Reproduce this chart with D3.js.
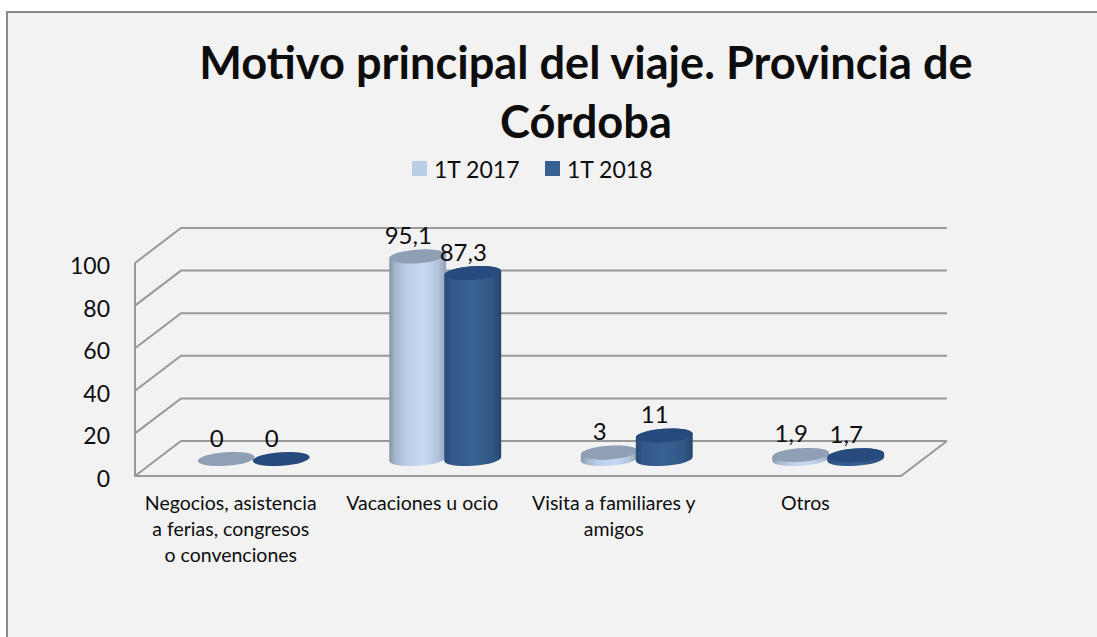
<!DOCTYPE html>
<html>
<head>
<meta charset="utf-8">
<script src="https://cdn.jsdelivr.net/npm/d3@7"></script>
<style>
  html, body { margin: 0; padding: 0; background: #fff; }
  svg { display: block; }
  text { font-family: Lato, "Open Sans", sans-serif; fill: #0d0d0d; }
</style>
</head>
<body>
<div id="chart"></div>
<script>
var titleLines = ["Motivo principal del viaje. Provincia de", "Córdoba"];
var categories = ["Negocios, asistencia a ferias, congresos o convenciones", "Vacaciones u ocio", "Visita a familiares y amigos", "Otros"];
var categoryLines = [
  ["Negocios, asistencia", "a ferias, congresos", "o convenciones"],
  ["Vacaciones u ocio"],
  ["Visita a familiares y", "amigos"],
  ["Otros"]
];
var seriesNames = ["1T 2017", "1T 2018"];
var values2017 = [0, 95.1, 3, 1.9];
var values2018 = [0, 87.3, 11, 1.7];
var yTicks = [0, 20, 40, 60, 80, 100];

var w = 1097, h = 637;
var depthX = 46, depthY = -35;   // 3d wall offset
var barW = 57, ry = 6.8, tilt = -4;

var svg = d3.select("#chart").append("svg").attr("width", w).attr("height", h);
var defs = svg.append("defs");

function gradient(id, stops) {
  var g = defs.append("linearGradient").attr("id", id);
  stops.forEach(function(s) {
    g.append("stop").attr("offset", s[0]).attr("stop-color", s[1]);
  });
}
gradient("body0", [[0, "#87949f"], [0.1, "#a5b5cb"], [0.3, "#bccfe8"], [0.6, "#c5d9f1"], [0.85, "#b3c5dd"], [1, "#93a2b6"]]);
gradient("body1", [[0, "#284a75"], [0.12, "#32588a"], [0.5, "#386193"], [0.85, "#305685"], [1, "#254570"]]);
var topColors = ["#8f9fb4", "#254a7b"];
var swatchColors = ["#b9cde5", "#376092"];

// background with the grey edge on the left and on top only
svg.append("rect").attr("x", 7).attr("y", 12).attr("width", w - 7).attr("height", h - 12).attr("fill", "#f2f2f2");
svg.append("path").attr("d", "M7,637 V12 H1097").attr("fill", "none").attr("stroke", "#898989").attr("stroke-width", 2);

var x0 = d3.scaleBand().domain(categories).range([135, 901]);
var x1 = d3.scaleBand().domain(seriesNames).range([0, 110]);
var y = d3.scaleLinear().domain([0, 100]).range([476, 263]);

// walls
var walls = svg.append("g").attr("fill", "none").attr("stroke", "#999").attr("stroke-width", 2);
yTicks.forEach(function(t) {
  walls.append("path").attr("d", "M135," + y(t) + " l" + depthX + "," + depthY + " H947");
});
walls.append("path").attr("d", "M135," + y(100) + " V" + y(0) + " H901 l" + depthX + "," + depthY);

// axes
var yAxis = svg.append("g").attr("transform", "translate(135,0)")
  .call(d3.axisLeft(y).tickValues(yTicks).tickSize(0).tickPadding(25));
yAxis.select(".domain").remove();
yAxis.selectAll("text").attr("font-size", 23).style("font-family", "Lato").attr("dy", "0.46em");

var xAxis = svg.append("g").attr("transform", "translate(0,476)")
  .call(d3.axisBottom(x0).tickSize(0));
xAxis.select(".domain").remove();
xAxis.selectAll("text").each(function(d, i) {
  var t = d3.select(this).text(null).attr("y", 0).attr("dy", null)
    .attr("font-size", 19.5).style("font-family", "Lato");
  categoryLines[i].forEach(function(line, j) {
    t.append("tspan").attr("x", 0).attr("y", 34 + j * 26).text(line);
  });
});

// cylinders
var rad = tilt * Math.PI / 180;
var ex = barW / 2 * Math.cos(rad), ey = barW / 2 * Math.sin(rad);
var baseY = y(0) - 17;

function cylinder(g, cx, v, si) {
  var top = baseY - (y(0) - y(v));
  if (v > 0) {
    var arc = "A" + barW / 2 + "," + ry + " " + tilt + " 0 ";
    g.append("path")
      .attr("d", "M" + (cx - ex) + "," + (top - ey) + " L" + (cx - ex) + "," + (baseY - ey) + " " +
        arc + "0 " + (cx + ex) + "," + (baseY + ey) + " L" + (cx + ex) + "," + (top + ey) + " " +
        arc + "0 " + (cx - ex) + "," + (top - ey) + "Z")
      .attr("fill", "url(#body" + si + ")");
  }
  g.append("ellipse")
    .attr("rx", barW / 2).attr("ry", ry)
    .attr("transform", "translate(" + cx + "," + top + ") rotate(" + tilt + ")")
    .attr("fill", topColors[si]);
}

var bars = svg.append("g");
var labels = svg.append("g").attr("text-anchor", "middle").attr("font-size", 24);
categories.forEach(function(c, i) {
  [values2017[i], values2018[i]].forEach(function(v, si) {
    var cx = x0(c) + x0.bandwidth() / 2 + depthX / 2 - 27.5 + x1(seriesNames[si]);
    cylinder(bars, cx, v, si);
    labels.append("text")
      .attr("x", cx - 9.5)
      .attr("y", baseY - (y(0) - y(v)) - 12.5)
      .text(String(v).replace(".", ","));
  });
});

// title
svg.append("g").attr("text-anchor", "middle").attr("font-size", 45.2).attr("font-weight", 700)
  .selectAll("text").data(titleLines).enter().append("text")
  .attr("x", 586).attr("y", function(d, i) { return 79 + i * 59; })
  .text(function(d) { return d; });

// legend
var legendX = [412, 545];
seriesNames.forEach(function(s, i) {
  svg.append("rect").attr("x", legendX[i]).attr("y", 161).attr("width", 15).attr("height", 15).attr("fill", swatchColors[i]);
  svg.append("text").attr("x", legendX[i] + 22).attr("y", 178).attr("font-size", 23).text(s);
});
</script>
</body>
</html>
